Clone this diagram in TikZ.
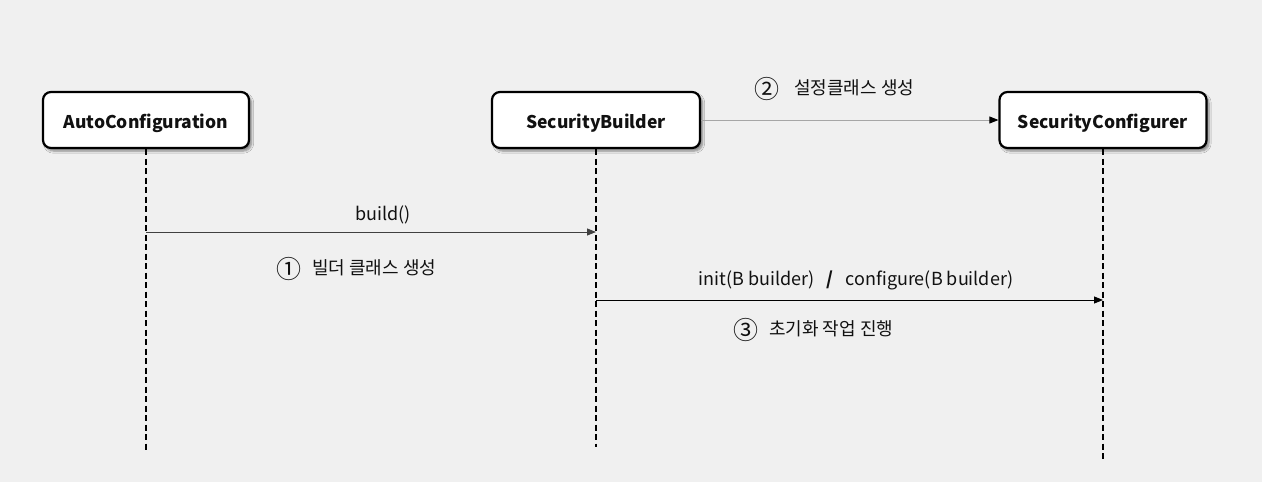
\documentclass[tikz,border=0pt]{standalone}
\usepackage{fontspec}
\setmainfont{Noto Sans CJK KR}
\usetikzlibrary{shadows.blur,arrows.meta}
\definecolor{bgc}{HTML}{F0F0F0}
\definecolor{txt}{HTML}{111111}
\definecolor{lightline}{HTML}{A6A6A6}
\definecolor{darkline}{HTML}{404040}
\begin{document}
\begin{tikzpicture}[x=1pt,y=-1pt,
  actor/.style={draw=black, line width=2.2pt, rounded corners=8pt, fill=white,
    minimum width=206pt, minimum height=56pt, inner sep=0pt,
    text height=17pt, text depth=0pt,
    font=\fontsize{17.5}{20}\selectfont\bfseries, text=txt,
    blur shadow={shadow xshift=2.5pt, shadow yshift=-3pt, shadow blur steps=6, shadow opacity=45}},
  lifeline/.style={draw=black, line width=1.8pt, dash pattern=on 6pt off 3.5pt},
  msg/.style={line width=0.9pt, -{Triangle[length=9pt,width=7pt]}},
  lbl/.style={font=\fontsize{18}{21}\selectfont, text=txt, inner sep=0pt},
  num/.style={font=\fontsize{25}{27}\selectfont, text=txt, inner sep=0pt}
]
\fill[bgc] (0,0) rectangle (1262,482);
\useasboundingbox (0,0) rectangle (1262,482);

\node[actor] (auto) at (146,120) {AutoConfiguration};
\node[actor, minimum width=208pt] (builder) at (596,120) {SecurityBuilder};
\node[actor, minimum width=207pt] (conf) at (1103,120) {SecurityConfigurer};

\coordinate (autoend) at (146,453);
\coordinate (builderend) at (596,447);
\coordinate (confend) at (1103,462);
\draw[lifeline] (auto.south) -- (autoend);
\draw[lifeline] (builder.south) -- (builderend);
\draw[lifeline] (conf.south) -- (confend);

\coordinate (a1) at (146,232);
\coordinate (b1) at (596,232);
\coordinate (b3) at (596,300);
\coordinate (c3) at (1103,300);

\draw[msg, darkline] (a1) -- (b1);
\draw[msg, lightline, -{Triangle[length=9pt,width=7pt,color=black,fill=black]}] (builder.east) -- (conf.west);
\draw[msg, black] (b3) -- (c3);

\node[lbl] (l1) at (383,215) {build()};
\node[num] (n1) at (289,269) {①};
\node[lbl, anchor=west] (t1) at (312,268) {빌더 클래스 생성};

\node[num] (n2) at (767,89) {②};
\node[lbl, anchor=west] (t2) at (794,88) {설정클래스 생성};

\node[lbl] (l3) at (856,280) {init(B builder)\hspace{12pt}{\bfseries /}\hspace{12pt}configure(B builder)};
\node[num] (n3) at (746,330) {③};
\node[lbl, anchor=west] (t3) at (769,329) {초기화 작업 진행};
\end{tikzpicture}
\end{document}
